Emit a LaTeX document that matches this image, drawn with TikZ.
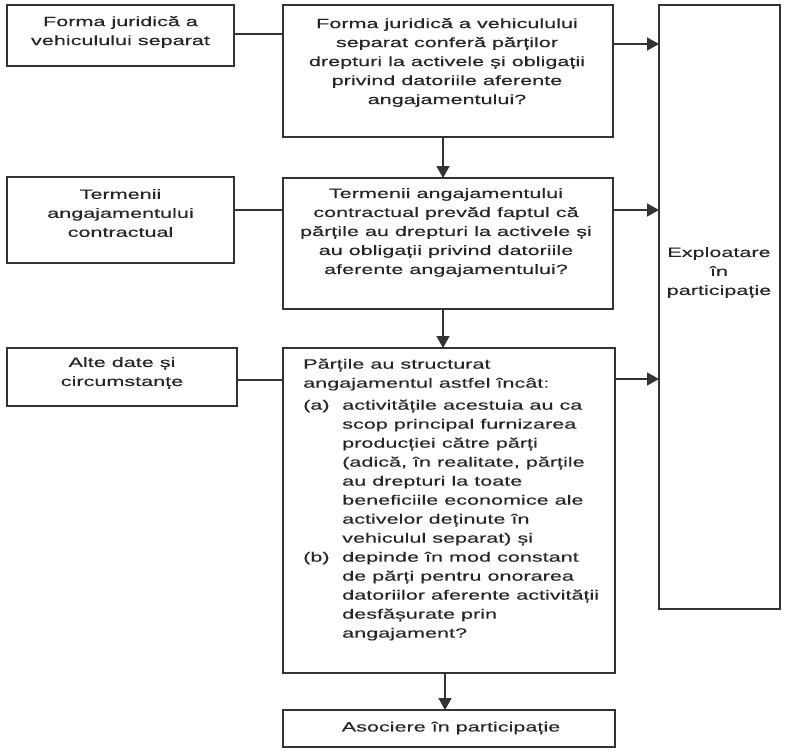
\documentclass[tikz,border=0pt]{standalone}
\usepackage{fontspec}
\setmainfont[FakeStretch=1.6,FakeBold=0.3]{Liberation Sans}
\usetikzlibrary{arrows.meta}
\begin{document}
\begin{tikzpicture}[x=1pt,y=-1pt,
  box/.style={draw=black!80, line width=1.6pt, anchor=north west, inner sep=0pt, outer sep=0pt},
  txt/.style={inner sep=0pt, text=black!85, font=\fontsize{13.5}{19}\selectfont},
  link/.style={draw=black!80, line width=1.6pt},
  arr/.style={link, -{Triangle[length=12pt,width=13pt]}}]
\useasboundingbox (0,0) rectangle (787,753);
% boxes
\node[box, minimum width=227pt, minimum height=61pt] (l1) at (7,5) {};
\node[box, minimum width=227pt, minimum height=86pt] (l2) at (7,177) {};
\node[box, minimum width=230pt, minimum height=58pt] (l3) at (7,348) {};
\node[box, minimum width=330pt, minimum height=132pt] (c1) at (283,5) {};
\node[box, minimum width=330pt, minimum height=131pt] (c2) at (283,178) {};
\node[box, minimum width=332pt, minimum height=325pt] (c3) at (283,348) {};
\node[box, minimum width=332pt, minimum height=37pt] (c4) at (283,710) {};
\node[box, minimum width=121pt, minimum height=604pt] (r) at (659,5) {};
% texts
\node[txt, align=center] (tl1) at (120.5,32) {Forma juridică a\\vehiculului separat};
\node[txt, align=center] (tl2) at (120.5,213) {Termenii\\angajamentului\\contractual};
\node[txt, align=center] (tl3) at (122,373) {Alte date și\\circumstanțe};
\node[txt, align=center] (tc1) at (447,62.5) {Forma juridică a vehiculului\\separat conferă părților\\drepturi la activele și obligații\\privind datoriile aferente\\angajamentului?};
\node[txt, align=center] (tc2) at (446,232.5) {Termenii angajamentului\\contractual prevăd faptul că\\părțile au drepturi la activele și\\au obligații privind datoriile\\aferente angajamentului?};
\node[txt, align=left, anchor=north west] (tc3) at (303,358.5) {Părțile au structurat\\angajamentul astfel încât:\\[3pt]%
\makebox[39pt][l]{(a)}activitățile acestuia au ca\\
\hspace*{39pt}scop principal furnizarea\\
\hspace*{39pt}producției către părți\\
\hspace*{39pt}(adică, în realitate, părțile\\
\hspace*{39pt}au drepturi la toate\\
\hspace*{39pt}beneficiile economice ale\\
\hspace*{39pt}activelor deținute în\\
\hspace*{39pt}vehiculul separat) și\\
\makebox[39pt][l]{(b)}depinde în mod constant\\
\hspace*{39pt}de părți pentru onorarea\\
\hspace*{39pt}datoriilor aferente activității\\
\hspace*{39pt}desfășurate prin\\
\hspace*{39pt}angajament?};
\node[txt] (tc4) at (451,728) {Asociere în participație};
\node[txt, align=center] (tr) at (719,272.5) {Exploatare\\în\\participație};
% level coordinates
\coordinate (y1) at (0,34);
\coordinate (y2) at (0,210);
\coordinate (y3) at (0,380);
\coordinate (z1) at (0,44);
\coordinate (z2) at (0,210);
\coordinate (z3) at (0,379);
\coordinate (ax) at (443,0);
\coordinate (bx) at (445,0);
% connectors
\draw[link] (l1.east |- y1) -- (c1.west |- y1);
\draw[link] (l2.east |- y2) -- (c2.west |- y2);
\draw[link] (l3.east |- y3) -- (c3.west |- y3);
\draw[arr] (c1.east |- z1) -- (r.west |- z1);
\draw[arr] (c2.east |- z2) -- (r.west |- z2);
\draw[arr] (c3.east |- z3) -- (r.west |- z3);
\draw[arr] (c1.south -| ax) -- (c2.north -| ax);
\draw[arr] (c2.south -| ax) -- (c3.north -| ax);
\draw[arr] (c3.south -| bx) -- (c4.north -| bx);
\end{tikzpicture}
\end{document}
